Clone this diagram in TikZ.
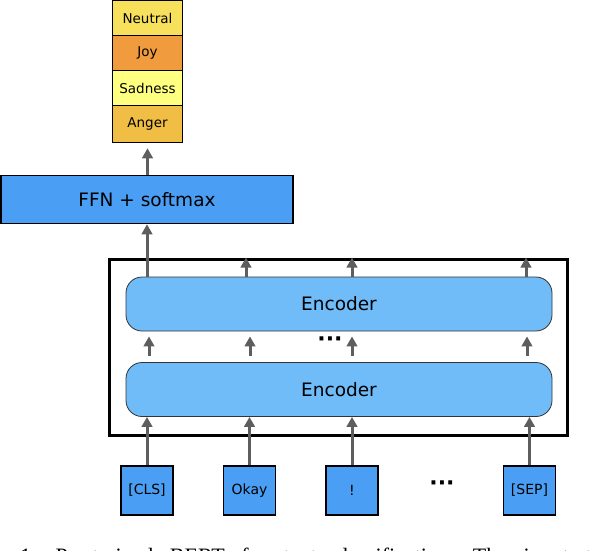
\documentclass[tikz,border=0pt]{standalone}
\usepackage{fontspec}
\setmainfont{DejaVu Sans}
\newfontfamily\capfont{Liberation Serif}
\usetikzlibrary{arrows.meta,calc}
\definecolor{ffnblue}{HTML}{4A9FF5}
\definecolor{encblue}{HTML}{70BCF8}
\definecolor{arrgray}{HTML}{5E5E5E}
\definecolor{cneutral}{HTML}{F6E05C}
\definecolor{cjoy}{HTML}{F09B3D}
\definecolor{csad}{HTML}{FFFF80}
\definecolor{canger}{HTML}{F0BE45}
\begin{document}
\begin{tikzpicture}[x=1pt,y=-1pt,
  lab/.style={draw=black,line width=1.5pt,minimum width=70pt,minimum height=35pt,inner sep=0pt,font=\fontsize{13.5}{15}\selectfont},
  tok/.style={draw=black,line width=1.5pt,fill=ffnblue,minimum width=52pt,minimum height=49pt,inner sep=0pt,font=\fontsize{14}{15}\selectfont},
  enc/.style={draw=black!80,line width=0.8pt,fill=encblue,rounded corners=16pt,minimum width=426pt,minimum height=54pt,inner sep=0pt,font=\fontsize{18.5}{20}\selectfont},
  arr/.style={draw=arrgray,line width=3pt,-{Triangle[width=10.5pt,length=10pt]}},
  dots/.style={font=\bfseries\fontsize{22}{22}\selectfont,inner sep=0pt}]
\useasboundingbox (0,0) rectangle (590,550);
\clip (0,0) rectangle (590,550);
% label stack
\node[lab,fill=cneutral] (neutral) at (147.5,18) {Neutral};
\node[lab,fill=cjoy] (joy) at (147.5,53) {Joy};
\node[lab,fill=csad] (sad) at (147.5,88) {Sadness};
\node[lab,fill=canger,minimum height=37pt] (anger) at (147.5,124) {Anger};
% FFN
\node[draw=black,line width=1.5pt,fill=ffnblue,minimum width=292pt,minimum height=48pt,inner sep=0pt,font=\fontsize{18.5}{20}\selectfont] (ffn) at (147,199.5) {FFN + softmax};
% frame
\node[draw=black,line width=3pt,minimum width=458pt,minimum height=176pt,inner sep=0pt] (frame) at (338,347) {};
% encoders
\node[enc] (enc2) at (339,304) {Encoder};
\node[enc] (enc1) at (339,389.5) {Encoder};
% tokens
\node[tok] (cls) at (147,490.5) {[CLS]};
\node[tok] (okay) at (249.5,490.5) {Okay};
\node[tok] (excl) at (352,490.5) {!};
\node[tok] (sep) at (529.5,490.5) {[SEP]};
\node[dots] (tdots) at (442,486) {···};
\node[dots] (mdots) at (330,342) {···};
% arrows: label stack
\draw[arr] (ffn.north -| anger.south) -- ([yshift=-5pt]anger.south);
% CLS output to FFN
\draw[arr] (enc2.north -| 147,0) -- (ffn.south -| 147,0);
% arrows above top encoder
\foreach \x in {246,352,526} \draw[arr] (enc2.north -| \x,0) -- (frame.north -| \x,0);
% arrows between encoders
\foreach \x/\n in {149/a,250/b,352/c,527/d} {
  \coordinate (s\n) at ($(enc1.north -| \x,0)+(0,-6)$);
  \coordinate (e\n) at ($(enc2.south -| \x,0)+(0,5)$);
  \draw[arr] (s\n) -- (e\n);
}
% tokens to bottom encoder
\foreach \t in {cls,okay,excl,sep} \draw[arr] (\t.north) -- (\t.north |- enc1.south);
% caption (cut off at the bottom edge, as in the source)
\node[anchor=base west,inner sep=0pt,font=\capfont\fontsize{22}{24}\selectfont] (cap) at (20,563) {\spaceskip=16.5pt 1: Pre-trained BERT for text classification. The input t};
\end{tikzpicture}
\end{document}
